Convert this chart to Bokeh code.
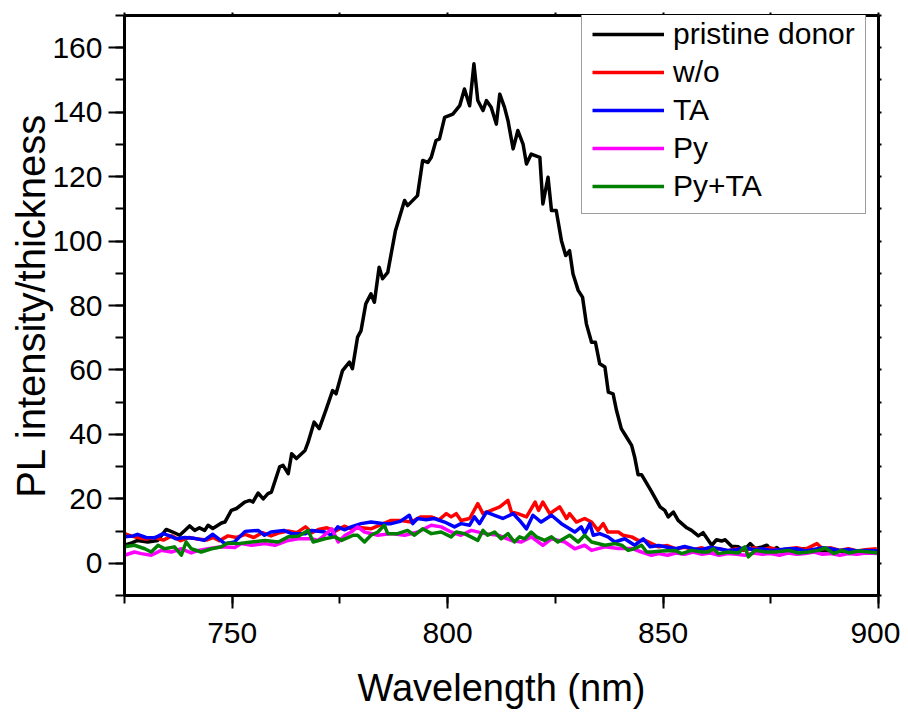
from bokeh.plotting import figure
from bokeh.models import (LinearAxis, SingleIntervalTicker, Legend, LegendItem,
                          Range1d, ColumnDataSource)
from bokeh.embed import file_html
from bokeh.resources import INLINE

# ---------------- data ----------------
wl_pristine = [725, 726.5, 728, 730.4, 732.7, 734.7, 736.2, 737.8, 739, 740.1, 741.3, 742.4,
               743.6, 744.4, 745.5, 747.5, 748.3, 749.8, 751, 752.9, 754.1, 754.8, 756, 757.2,
               758.3, 759.1, 761, 761.8, 763, 763.8, 764.9, 766.9, 767.6, 769, 770.2, 771.7,
               773.3, 774.1, 775.6, 777.2, 777.9, 779.1, 779.9, 781, 782.2, 783, 784.1, 784.9,
               786.1, 787.9, 790, 790.7, 793, 794.2, 795.4, 796.2, 797.3, 798.1, 799.3, 801.2,
               802.8, 803.9, 805.1, 806.1, 807, 808.2, 809, 810.1, 811.3, 812.1, 813.2, 814,
               815.2, 816.3, 817.5, 818.3, 819.4, 821.4, 822.1, 823.3, 824.1, 825.2, 826.4,
               827.4, 828.3, 829.1, 830.3, 831.3, 832.2, 833.4, 834.3, 835.3, 836.5, 837.3,
               838.4, 839.2, 840.3, 841.5, 842.7, 843.4, 844.2, 845, 847.3, 849.3, 850.4, 851.2,
               852.4, 853.5, 855.5, 856.6, 858.2, 859.3, 861.3, 862.4, 863.6, 864.4, 865.9,
               867.5, 868.7, 870.2, 871.4, 873, 874.1, 875.2, 876.4, 877.6, 880, 882.6, 885,
               888, 891, 894, 897, 900]
pl_pristine = [5.6, 6.2, 7.1, 6.6, 7.1, 10.5, 9.7, 8.7, 10.2, 11.6, 10.2, 11,
               10.2, 11.8, 10.8, 12.5, 12.8, 16.4, 17, 19, 19.5, 19, 21.8, 20,
               21.6, 22.1, 29.9, 30.4, 27.8, 34, 32.5, 35, 37.5, 43.8, 41.8, 47.4,
               53.6, 52.6, 59.8, 62.4, 60.4, 70.2, 72.2, 80.5, 83.6, 81, 91.9, 88.3,
               90.3, 103.3, 112.6, 111, 114.1, 125, 124.4, 126, 131.2, 131.7, 138.4, 139.4,
               142, 147.2, 142, 155, 143.6, 140.5, 143.6, 141.5, 136.3, 145.6, 141.5, 137.4,
               128.6, 134.3, 130.1, 123.9, 127, 126, 111.5, 119.8, 109.5, 109.5, 100.2,
               95.5, 97, 89.8, 84.7, 82.6, 74.3, 68.6, 68.6, 61.9, 60.9, 53.1,
               52.6, 47.4, 41.8, 39.2, 36.6, 33, 27.5, 27.5, 22.3, 17.5, 16.4, 14.4,
               15.9, 13.3, 11, 10.2, 8.5, 9.5, 5.6, 7.3, 6.9, 7.3, 5.3,
               5.1, 4, 6.1, 4.6, 5.1, 5.6, 4, 4.9, 3.5, 4.2, 4.5, 3.8,
               4, 3.7, 4, 3.6, 3.8]

wl_wo = [725, 726.5, 728, 730, 732, 734, 736, 738, 740, 742, 744, 745.5, 747, 749, 751, 753,
         755, 757, 759, 761, 763, 765, 767, 768.5, 770, 772, 774, 776, 777.6, 780, 782.2,
         784.5, 786.9, 789.2, 791.5, 793.8, 796.2, 798, 799.7, 800.8, 802, 803.1, 805.1, 807,
         808.2, 810.1, 812.1, 814, 814.8, 816.3, 818.3, 820.3, 821.1, 822.1, 823.7, 826,
         827.6, 828.3, 829.9, 831.8, 833.4, 834.9, 836.1, 837.2, 839.6, 840.7, 842.7, 844.2,
         845.8, 847.5, 849, 851, 853, 855, 857, 859, 861, 863, 865, 867, 869, 871, 873, 875,
         877, 879, 881, 883, 885.7, 887, 889, 891, 893, 895, 897, 899.6]
pl_wo = [9.2, 8.5, 8, 7.5, 8, 7.2, 8.5, 7, 8, 7.5, 7.2, 8, 7, 8.5, 8, 9,
         8, 9.5, 8.5, 9.5, 10, 9.5, 11.3, 9.5, 10.5, 11, 10, 11.5, 10.7, 11, 10.7,
         12, 13.3, 13.3, 12.8, 14.4, 14.4, 13.5, 15.4, 14.4, 15.4, 13.3, 13.9, 18.5,
         15.4, 16.4, 17.5, 19.5, 15.9, 15.4, 14.4, 19, 16.4, 19, 15.4, 17.5,
         13.9, 15.4, 12.8, 13.9, 12.8, 10.2, 12.3, 9.7, 9.7, 8.7, 8.2, 7.1,
         7.1, 6, 5.1, 5.5, 4.5, 5, 4.2, 4.8, 4, 4.5, 3.8, 4.5, 4, 4.8, 4.2, 4.8,
         4, 4.5, 4.8, 4.3, 6.1, 4.5, 4.8, 4, 4.5, 3.8, 4.2, 4.5]

wl_ta = [725, 727, 728, 730, 732, 734, 735.5, 737, 739, 741, 743.5, 745.5, 748.3, 750.5, 753,
         756, 757.5, 759, 762, 763.8, 767, 768.5, 771.5, 773, 774.5, 776, 777.6, 779.9, 782.2,
         785.3, 786.9, 789, 791.1, 791.9, 793, 795, 796.9, 799.3, 801.6, 803.1, 805.1, 806.2,
         807.4, 809, 810.9, 812.8, 815.2, 816.7, 818.3, 819.8, 821.7, 824.1, 826.4, 828.3,
         829.5, 831, 831.8, 833, 833.8, 835.3, 837.2, 838.8, 841.1, 843.4, 845.4, 847, 849,
         851, 853, 855, 857, 859, 861, 863, 865, 867, 869, 871, 873, 875, 877, 879, 881, 883,
         885, 887, 889, 891, 893, 895, 897, 900]
pl_ta = [8.2, 8.5, 9, 8, 7.9, 9.2, 8.5, 7.6, 8, 7.8, 7.1, 9, 6.1, 6.6, 9.9,
         10.2, 8.7, 9.7, 10.2, 9.2, 9.2, 10.2, 9.7, 8.7, 11.3, 10.4, 11.3, 12.3, 12.8,
         12.3, 12.3, 13, 14.9, 12.3, 13.9, 13.5, 13.9, 12.8, 11.3, 12.3, 11.8, 14.4,
         12.3, 15.9, 14.9, 13.9, 15.4, 13.3, 10.7, 14.9, 12.8, 14.9, 12.3, 10.7,
         9.7, 11.3, 9.2, 12.3, 8.7, 9.2, 8.2, 6.6, 7.6, 5.6, 7.6, 5.1, 5.5,
         5, 4.5, 5.2, 4.5, 4.2, 5, 4.5, 4, 4.2, 4.8, 4.2, 4.5, 4, 4.2, 4.5, 4.5, 3.8,
         4.3, 4.8, 4.5, 4, 4.3, 3.8, 4, 3.8]

wl_py = [725, 727.3, 728.9, 731.2, 733.5, 735.9, 738.2, 740.5, 742.1, 744.4, 747.5, 750.6,
         752.1, 754.5, 757.6, 759.9, 763, 765.3, 768.4, 770, 773.1, 774.6, 776.2, 777.6,
         779.1, 780.7, 783.8, 786.9, 790, 793.1, 796.2, 798.5, 800.8, 803.1, 805.5, 808.6,
         811.7, 814.8, 817.1, 819.4, 822.1, 824.1, 827.2, 829.5, 831.8, 833.4, 836.5, 839.6,
         842.7, 845, 847.3, 849, 851, 853, 855, 857, 859, 861, 863, 865, 867, 869, 871, 873,
         875, 877, 879, 881, 883, 885, 887, 889, 891, 893, 895, 897, 900]
pl_py = [2.5, 3.5, 3, 2.5, 4, 3.5, 4.5, 3.2, 4, 4.5, 5.1, 4.9,
         6.1, 5.6, 6.1, 5.6, 7.1, 7.6, 7.6, 7.1, 10.7, 6.6, 8.7, 9.7,
         11.3, 9.7, 8.7, 9.2, 8.7, 9.7, 11.8, 11.3, 9.7, 8.7, 10.2, 9.2,
         8.7, 7.1, 6.6, 8.2, 5.6, 7.6, 6.6, 4.5, 5.6, 4, 5.1, 4.6,
         4.6, 3.5, 2.5, 3, 2.5, 3.2, 2.8, 3.5, 2.8, 3.2, 2.5, 3, 2.8, 2.5, 3.2, 2.8,
         3, 2.5, 3.2, 2.8, 3, 3.5, 2.8, 3, 2.5, 3, 2.8, 3.2, 3]

wl_pyta = [725, 727.3, 729.7, 731.2, 732.8, 734.3, 736.6, 738.2, 739.3, 740.5, 742.8, 745.2,
           747.5, 749, 751.4, 754.5, 757.6, 760.7, 763, 765.3, 767.6, 768.8, 771.5, 773.8,
           775.4, 778.1, 779.1, 780.7, 782.2, 783.8, 785.3, 786.1, 788.4, 790.7, 792.3, 794.2,
           796.2, 798.5, 800.8, 802, 803.9, 807, 808.2, 809.3, 810.9, 812.4, 814, 815.5, 816.7,
           817.9, 819.4, 820.6, 822.5, 824.1, 825.6, 828.3, 830.3, 831.8, 833.4, 836.5, 838.8,
           840.4, 841.9, 843.5, 845, 846.2, 847.3, 849.7, 852.8, 854.3, 856.6, 859, 860.5,
           861.7, 862.8, 865.2, 867.5, 869, 869.8, 871.4, 873.7, 876, 879.1, 881.4, 883.8,
           886.1, 887.6, 889.6, 891.5, 893.1, 895.4, 897.7, 900]
pl_pyta = [5.1, 5.6, 4.5, 3.5, 5.6, 4.5, 5.1, 2.5, 6.6, 4.5, 3.5, 4.5,
           5.1, 6.3, 6.1, 6.6, 7.1, 6.6, 8.2, 8.4, 10.2, 6.6, 7.6, 8.2,
           7.1, 8.7, 8.7, 6.6, 8.7, 9.7, 11.8, 9.2, 9.2, 10.2, 8.7, 10.7,
           9.2, 9.7, 8.2, 9.7, 9.2, 7.1, 10.2, 8.7, 9.7, 7.6, 9.2, 6.6, 8.2,
           7.6, 9.7, 8.2, 7.1, 8.2, 6.6, 8.7, 6.6, 8.7, 6.6, 5.6, 6.1,
           5.6, 4, 4.6, 5.6, 3.5, 3.5, 3.8, 4, 3, 4, 3.5, 3.5,
           4.5, 3, 3.5, 3.2, 5.1, 2, 4, 3.5, 3.5, 4, 3.2, 3.5,
           4, 4.8, 3, 4, 3.2, 3.8, 3.5, 3.2]

series_labels = ["pristine donor", "w/o", "TA", "Py", "Py+TA"]
series_colors = ["#000000", "#ff0000", "#0000ff", "#ff00ff", "#008000"]
series_x = [wl_pristine, wl_wo, wl_ta, wl_py, wl_pyta]
series_y = [pl_pristine, pl_wo, pl_ta, pl_py, pl_pyta]

x_label = "Wavelength (nm)"
y_label = "PL intensity/thickness"

FONT = "Liberation Sans"

# ---------------- figure ----------------
p = figure(width=900, height=715, output_backend="svg", toolbar_location=None,
           x_range=Range1d(725, 900), y_range=Range1d(-10, 170),
           min_border_left=124, min_border_right=22, min_border_top=15,
           min_border_bottom=120)
p.outline_line_color = None
p.xgrid.grid_line_color = None
p.ygrid.grid_line_color = None
p.background_fill_color = "white"
p.border_fill_color = "white"

renderers = []
for xs, ys, c in zip(series_x, series_y, series_colors):
    src = ColumnDataSource(dict(x=xs, y=ys))
    r = p.line("x", "y", source=src, line_color=c, line_width=3.5, line_join="round")
    renderers.append(r)

# bottom axis
xa = p.xaxis[0]
xa.ticker = SingleIntervalTicker(interval=50, num_minor_ticks=2)
# left axis
ya = p.yaxis[0]
ya.ticker = SingleIntervalTicker(interval=20, num_minor_ticks=2)

for ax in (xa, ya):
    ax.axis_line_width = 3
    ax.axis_line_color = "black"
    ax.major_tick_line_width = 2
    ax.minor_tick_line_width = 2
    ax.major_tick_line_color = "black"
    ax.minor_tick_line_color = "black"
    ax.major_tick_in = 0
    ax.minor_tick_in = 0
    ax.major_label_text_font = FONT
    ax.major_label_text_font_size = "30px"
    ax.major_label_text_color = "black"
    ax.axis_label_text_font = FONT
    ax.axis_label_text_font_style = "normal"
    ax.axis_label_text_color = "black"

xa.major_tick_out = 13
xa.minor_tick_out = 8
xa.major_label_standoff = 14
xa.axis_label = x_label
xa.axis_label_text_font_size = "38px"
xa.axis_label_standoff = 21

ya.major_tick_out = 16
ya.minor_tick_out = 9
ya.major_label_standoff = 6
ya.axis_label = y_label
ya.axis_label_text_font_size = "40px"
ya.axis_label_standoff = -4

# mirrored top and right axes (tiny ticks, no labels)
top = LinearAxis(ticker=SingleIntervalTicker(interval=25, num_minor_ticks=0),
                 major_label_text_font_size="1px", major_label_text_color=None,
                 major_label_standoff=0,
                 major_tick_in=0, major_tick_out=3, minor_tick_out=0,
                 axis_line_width=3, major_tick_line_width=2)
right = LinearAxis(ticker=SingleIntervalTicker(interval=10, num_minor_ticks=0),
                   major_label_text_font_size="1px", major_label_text_color=None,
                   major_label_standoff=0,
                   major_tick_in=0, major_tick_out=3, minor_tick_out=0,
                   axis_line_width=3, major_tick_line_width=2)
p.add_layout(top, "above")
p.add_layout(right, "right")

legend = Legend(items=[LegendItem(label=l, renderers=[r])
                       for l, r in zip(series_labels, renderers)],
                location=(457, 381), margin=0, padding=10, spacing=4,
                glyph_width=72, glyph_height=30, label_standoff=9,
                label_text_font=FONT, label_text_font_size="30px",
                label_text_color="black",
                border_line_color="#3c3c3c", border_line_width=1.5,
                background_fill_color="white", background_fill_alpha=1.0)
p.add_layout(legend, "center")

open("out.html", "w").write(file_html(p, INLINE))
